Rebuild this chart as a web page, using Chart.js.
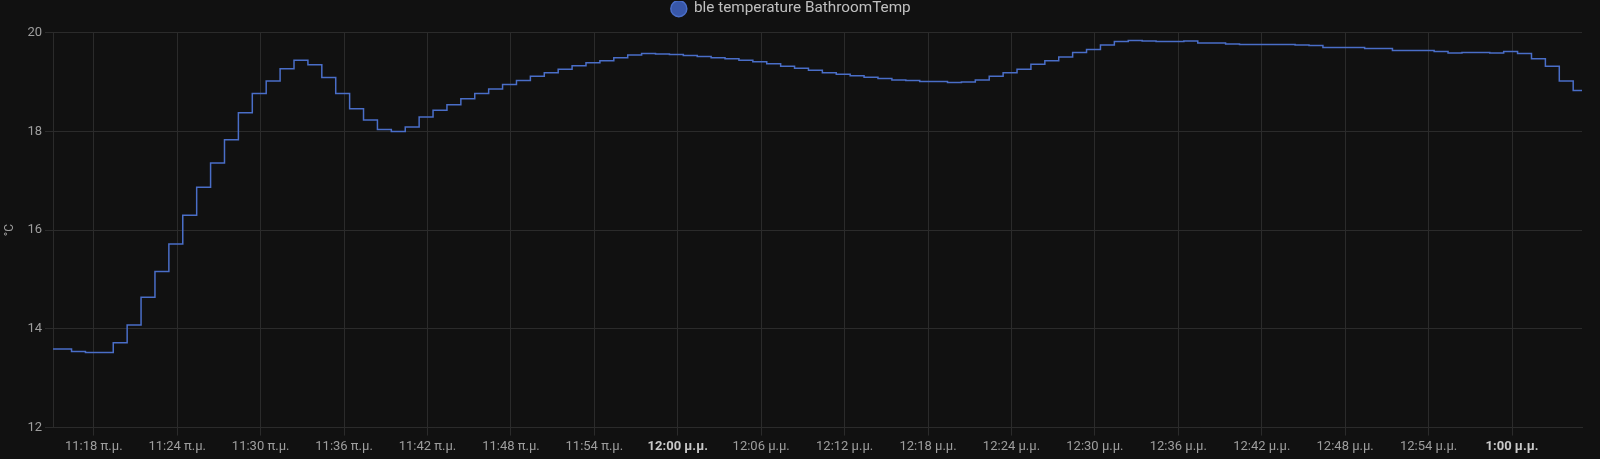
<!DOCTYPE html>
<html>
<head>
<meta charset="utf-8">
<script src="https://cdn.jsdelivr.net/npm/chart.js@4"></script>
<style>
  html, body { margin: 0; padding: 0; background: #111111; }
  #wrap { width: 1600px; height: 459px; position: relative; }
</style>
</head>
<body>
<div id="wrap"><canvas id="c"></canvas></div>
<script>
const seriesName = "ble temperature BathroomTemp";
const unitLabel = "°C";

const times = [
"11:15:04","11:16:24","11:17:24","11:18:24","11:19:24","11:20:24","11:21:24","11:22:24","11:23:24","11:24:24",
"11:25:24","11:26:24","11:27:24","11:28:24","11:29:24","11:30:24","11:31:24","11:32:24","11:33:24","11:34:24",
"11:35:24","11:36:24","11:37:24","11:38:24","11:39:24","11:40:24","11:41:24","11:42:24","11:43:24","11:44:24",
"11:45:24","11:46:24","11:47:24","11:48:24","11:49:24","11:50:24","11:51:24","11:52:24","11:53:24","11:54:24",
"11:55:24","11:56:24","11:57:24","11:58:24","11:59:24","12:00:24","12:01:24","12:02:24","12:03:24","12:04:24",
"12:05:24","12:06:24","12:07:24","12:08:24","12:09:24","12:10:24","12:11:24","12:12:24","12:13:24","12:14:24",
"12:15:24","12:16:24","12:17:24","12:18:24","12:19:24","12:20:24","12:21:24","12:22:24","12:23:24","12:24:24",
"12:25:24","12:26:24","12:27:24","12:28:24","12:29:24","12:30:24","12:31:24","12:32:24","12:33:24","12:34:24",
"12:35:24","12:36:24","12:37:24","12:38:24","12:39:24","12:40:24","12:41:24","12:42:24","12:43:24","12:44:24",
"12:45:24","12:46:24","12:47:24","12:48:24","12:49:24","12:50:24","12:51:24","12:52:24","12:53:24","12:54:24",
"12:55:24","12:56:24","12:57:24","12:58:24","12:59:24","13:00:24","13:01:24","13:02:24","13:03:24","13:04:24",
"13:05:02"
];

const temperatures = [
13.59, 13.54, 13.52, 13.52, 13.72, 14.08, 14.64, 15.16, 15.72, 16.30,
16.87, 17.36, 17.83, 18.38, 18.77, 19.02, 19.27, 19.44, 19.35, 19.09,
18.77, 18.46, 18.23, 18.04, 18.00, 18.09, 18.29, 18.43, 18.54, 18.66,
18.77, 18.86, 18.95, 19.03, 19.12, 19.19, 19.26, 19.33, 19.39, 19.43,
19.49, 19.55, 19.58, 19.57, 19.56, 19.54, 19.52, 19.49, 19.47, 19.44,
19.41, 19.37, 19.32, 19.28, 19.24, 19.19, 19.16, 19.13, 19.10, 19.07,
19.04, 19.03, 19.01, 19.01, 18.99, 19.00, 19.04, 19.12, 19.19, 19.26,
19.36, 19.43, 19.51, 19.60, 19.66, 19.75, 19.82, 19.84, 19.83, 19.82,
19.82, 19.83, 19.79, 19.79, 19.77, 19.76, 19.76, 19.76, 19.76, 19.75,
19.74, 19.70, 19.70, 19.70, 19.68, 19.68, 19.64, 19.64, 19.64, 19.62,
19.59, 19.60, 19.60, 19.59, 19.62, 19.58, 19.47, 19.32, 19.02, 18.83,
18.83
];

const xRange = ["11:15:04", "13:05:02"];
const xTickTimes = ["11:18","11:24","11:30","11:36","11:42","11:48","11:54","12:00","12:06","12:12",
                    "12:18","12:24","12:30","12:36","12:42","12:48","12:54","13:00"];
const xTickLabels = ["11:18 π.μ.","11:24 π.μ.","11:30 π.μ.","11:36 π.μ.","11:42 π.μ.","11:48 π.μ.","11:54 π.μ.",
                     "12:00 μ.μ.","12:06 μ.μ.","12:12 μ.μ.","12:18 μ.μ.","12:24 μ.μ.","12:30 μ.μ.","12:36 μ.μ.",
                     "12:42 μ.μ.","12:48 μ.μ.","12:54 μ.μ.","1:00 μ.μ."];
const xTickBold = [false,false,false,false,false,false,false,true,false,false,false,false,false,false,false,false,false,true];
const yRange = [12, 20];
const yStep = 2;

function toMin(s) {
  const p = s.split(":").map(Number);
  return (p[0] * 60 + p[1] + (p[2] || 0) / 60) - (11 * 60 + 18);
}

const points = times.map((t, i) => ({ x: toMin(t), y: temperatures[i] }));
const lineColor = "#4a6ec8";
const gridColor = "#2b2b2b";
const tickColor = "#9e9e9e";

new Chart(document.getElementById("c"), {
  type: "line",
  data: {
    datasets: [{
      label: seriesName,
      data: points,
      stepped: "before",
      borderColor: lineColor,
      backgroundColor: "rgba(66,105,208,0.8)",
      borderWidth: 1.5,
      pointRadius: 0,
      pointHoverRadius: 0,
      fill: false,
      tension: 0
    }]
  },
  options: {
    responsive: true,
    maintainAspectRatio: false,
    animation: false,
    layout: { padding: { left: 0, right: 18, top: 1, bottom: 0 } },
    plugins: {
      tooltip: { enabled: false },
      title: {
        display: true,
        text: "",
        position: "top",
        weight: 500,
        font: { size: 1 },
        padding: { top: 0, bottom: 5.2 }
      },
      legend: {
        display: true,
        position: "top",
        labels: {
          usePointStyle: true,
          pointStyle: "circle",
          boxWidth: 15,
          boxHeight: 11.3,
          padding: 0,
          color: "#c0c0c0",
          font: { family: "Roboto", size: 15.3 }
        }
      }
    },
    scales: {
      x: {
        type: "linear",
        min: toMin(xRange[0]),
        max: toMin(xRange[1]),
        afterBuildTicks: (scale) => {
          scale.ticks = xTickTimes.map(t => ({ value: toMin(t) }));
        },
        afterFit: (scale) => { scale.height = 31.4; },
        grid: { color: gridColor, tickLength: 8, drawTicks: true },
        border: { display: true, color: gridColor },
        ticks: {
          autoSkip: false,
          maxRotation: 0,
          minRotation: 0,
          padding: 3,
          color: (ctx) => xTickBold[ctx.index] ? "#c8c8c8" : tickColor,
          font: (ctx) => ({ family: "Roboto", size: 13, weight: xTickBold[ctx.index] ? "bold" : "normal" }),
          callback: (value, index) => xTickLabels[index]
        }
      },
      y: {
        min: yRange[0],
        max: yRange[1],
        afterFit: (scale) => { scale.width = 53; },
        grid: { color: gridColor, tickLength: 8 },
        border: { display: true, color: gridColor },
        title: {
          display: true,
          text: unitLabel,
          color: tickColor,
          padding: { top: 3, bottom: 0 },
          font: { family: "Roboto", size: 12 }
        },
        ticks: {
          stepSize: yStep,
          padding: 3,
          color: tickColor,
          font: { family: "Roboto", size: 13 }
        }
      }
    }
  }
});
</script>
</body>
</html>
